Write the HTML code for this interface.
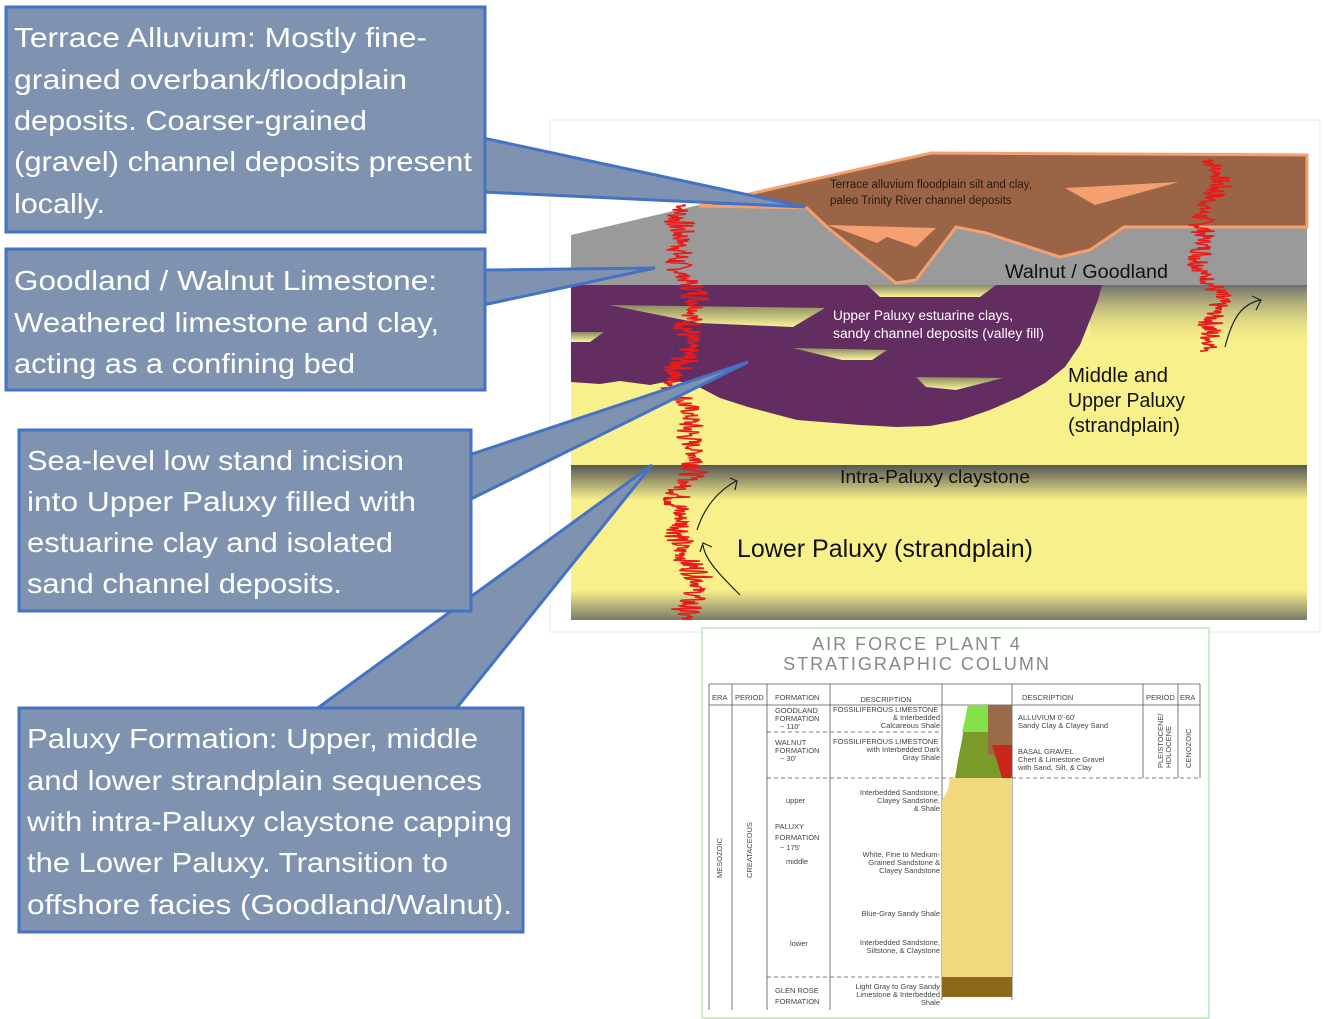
<!DOCTYPE html>
<html><head><meta charset="utf-8"><style>
html,body{margin:0;padding:0;background:#fff;}
svg{display:block;font-family:"Liberation Sans",sans-serif;}
</style></head><body>
<svg id="s" width="1323" height="1019" viewBox="0 0 1323 1019" xmlns="http://www.w3.org/2000/svg">
<defs>
<linearGradient id="gTop" x1="0" y1="0" x2="0" y2="1"><stop offset="0" stop-color="#6e6e6e"/><stop offset="0.35" stop-color="#f8f08a" stop-opacity="0"/></linearGradient>
<linearGradient id="gClay" x1="0" y1="0" x2="0" y2="1"><stop offset="0" stop-color="#555"/><stop offset="1" stop-color="#f8f08a"/></linearGradient>
<linearGradient id="gBot" x1="0" y1="0" x2="0" y2="1"><stop offset="0" stop-color="#f8f08a"/><stop offset="1" stop-color="#7a7a6a"/></linearGradient>
<linearGradient id="gLens" x1="0" y1="0" x2="0" y2="1"><stop offset="0" stop-color="#8a8a60"/><stop offset="1" stop-color="#fbf59a"/></linearGradient>
</defs>

<g>
<rect x="550" y="120" width="770" height="512" fill="#fff" stroke="#e4ece4" stroke-width="1"/>
<rect x="571" y="285" width="736" height="180" fill="#f8f08a"/>
<rect x="1090" y="285" width="217" height="180" fill="url(#gTop)"/>
<rect x="571" y="465" width="736" height="35" fill="url(#gClay)"/>
<rect x="571" y="500" width="736" height="90" fill="#f8f08a"/>
<rect x="571" y="590" width="736" height="30" fill="url(#gBot)"/>
<polygon points="571,235 699,205 1307,155 1307,285 571,285" fill="#9a9a9a"/>
<polygon points="699,206 758,192 931,153 1307,155 1307,227 1124,227 1090,250 1060,257 986,233 956,227 916,280 896,283 827,227 807,208" fill="#9a6446" stroke="#f4a070" stroke-width="3"/>
<polygon points="1065,188 1179,182 1095,205" fill="#f4a070"/>
<polygon points="827,225 936,228 916,247 887,237 877,243 842,230" fill="#f4a070"/>
<polygon points="571,285 1102,285 1098,300 1090,320 1080,345 1065,367 1045,383 1020,397 990,410 961,420 930,426 897,427 860,425 797,420 748,407 720,398 699,387 674,380 650,385 620,381 600,384 571,382" fill="#632d62"/>
<polygon points="867,285 996,285 980,297 880,297" fill="url(#gLens)"/>
<polygon points="609,305 825,308 793,327 699,323" fill="url(#gLens)"/>
<polygon points="571,332 604,332 590,342 571,342" fill="url(#gLens)"/>
<polygon points="793,348 887,350 872,360 842,360" fill="url(#gLens)"/>
<polygon points="916,377 1003,378 956,390 926,387" fill="url(#gLens)"/>
<path id="logL" fill="none" stroke="#e81b1b" stroke-width="1.6"/>
<path id="logR" fill="none" stroke="#e81b1b" stroke-width="1.6"/>
<path d="M1225,347 C1232,320 1240,305 1260,300 M1252,296 L1261,300 L1256,310" fill="none" stroke="#222" stroke-width="1.2"/>
<path d="M697,530 C705,505 720,490 736,481 M730,478 L737,481 L735,490" fill="none" stroke="#222" stroke-width="1.2"/>
<path d="M740,595 C720,575 705,560 703,545 M700,552 L703,543 L712,547" fill="none" stroke="#222" stroke-width="1.2"/>
<text x="830" y="188" font-size="11.5" fill="#2a1a10">Terrace alluvium floodplain silt and clay,</text>
<text x="830" y="204" font-size="11.5" fill="#2a1a10">paleo Trinity River channel deposits</text>
<text x="1005" y="278" font-size="19" fill="#111" textLength="163" lengthAdjust="spacingAndGlyphs">Walnut / Goodland</text>
<text x="833" y="320" font-size="13.5" fill="#fff" textLength="180" lengthAdjust="spacingAndGlyphs">Upper Paluxy estuarine clays,</text>
<text x="833" y="338" font-size="13.5" fill="#fff" textLength="211" lengthAdjust="spacingAndGlyphs">sandy channel deposits (valley fill)</text>
<text x="1068" y="382" font-size="20" fill="#111" textLength="100" lengthAdjust="spacingAndGlyphs">Middle and</text>
<text x="1068" y="407" font-size="20" fill="#111" textLength="117" lengthAdjust="spacingAndGlyphs">Upper Paluxy</text>
<text x="1068" y="432" font-size="20" fill="#111" textLength="112" lengthAdjust="spacingAndGlyphs">(strandplain)</text>
<text x="840" y="483" font-size="18" fill="#111" textLength="190" lengthAdjust="spacingAndGlyphs">Intra-Paluxy claystone</text>
<text x="737" y="557" font-size="25" fill="#111" textLength="296" lengthAdjust="spacingAndGlyphs">Lower Paluxy (strandplain)</text>
</g>

<g font-size="7.5" fill="#444">
<rect x="702" y="628" width="507" height="390" fill="#fff" stroke="#cfeccf" stroke-width="2"/>
<text x="917" y="650" font-size="18" fill="#888" text-anchor="middle" letter-spacing="2">AIR FORCE PLANT 4</text>
<text x="917" y="670" font-size="18" fill="#888" text-anchor="middle" letter-spacing="2">STRATIGRAPHIC COLUMN</text>
<g stroke="#555" stroke-width="0.8" fill="none">
<line x1="709" y1="684" x2="1200" y2="684"/>
<line x1="709" y1="705" x2="1200" y2="705"/>
<line x1="709" y1="684" x2="709" y2="1010"/>
<line x1="732" y1="684" x2="732" y2="1010"/>
<line x1="767" y1="684" x2="767" y2="1010"/>
<line x1="830" y1="684" x2="830" y2="1010"/>
<line x1="942" y1="684" x2="942" y2="1000"/>
<line x1="1012" y1="684" x2="1012" y2="1000"/>
<line x1="1143" y1="684" x2="1143" y2="778"/>
<line x1="1178" y1="684" x2="1178" y2="778"/>
<line x1="1200" y1="684" x2="1200" y2="778"/>
<g stroke-dasharray="4,3"><line x1="767" y1="732" x2="942" y2="732"/><line x1="767" y1="778" x2="1200" y2="778"/><line x1="767" y1="977" x2="942" y2="977"/></g>
</g>
<polygon points="968,705 988,705 988,745 1012,745 1012,778 955,778 958,760 962,740 965,720" fill="#7a9a2a"/>
<polygon points="968,705 988,705 988,732 962,732 965,720" fill="#86e04a"/>
<rect x="988" y="705" width="24" height="50" fill="#9a6a4a"/>
<polygon points="992,745 1012,745 1012,778 1002,778" fill="#c8281a"/>
<polygon points="950,778 1012,778 1012,977 942,977 942,800 948,790" fill="#f2d87c"/>
<rect x="942" y="977" width="70" height="20" fill="#8a6a1a"/>
<text x="712" y="700">ERA</text><text x="735" y="700">PERIOD</text><text x="775" y="700">FORMATION</text><text x="886" y="702" text-anchor="middle">DESCRIPTION</text>
<text x="1022" y="700">DESCRIPTION</text><text x="1146" y="700">PERIOD</text><text x="1180" y="700">ERA</text>
<text x="775" y="713">GOODLAND</text><text x="775" y="721">FORMATION</text><text x="780" y="729">~ 110'</text>
<text x="833" y="712">FOSSILIFEROUS LIMESTONE</text><text x="940" y="720" text-anchor="end">&amp; Interbedded</text><text x="940" y="728" text-anchor="end">Calcareous Shale</text>
<text x="775" y="745">WALNUT</text><text x="775" y="753">FORMATION</text><text x="780" y="761">~ 30'</text>
<text x="833" y="744">FOSSILIFEROUS LIMESTONE</text><text x="940" y="752" text-anchor="end">with Interbedded Dark</text><text x="940" y="760" text-anchor="end">Gray Shale</text>
<text x="1018" y="720">ALLUVIUM  0'-60'</text><text x="1018" y="728">Sandy Clay &amp; Clayey Sand</text>
<text x="1018" y="754">BASAL GRAVEL</text><text x="1018" y="762">Chert &amp; Limestone Gravel</text><text x="1018" y="770">with Sand, Silt, &amp; Clay</text>
<text x="0" y="0" transform="translate(1163,768) rotate(-90)">PLEISTOCENE/</text><text x="0" y="0" transform="translate(1171,768) rotate(-90)">HOLOCENE</text>
<text x="0" y="0" transform="translate(1191,768) rotate(-90)">CENOZOIC</text>
<text x="0" y="0" transform="translate(722,878) rotate(-90)">MESOZOIC</text>
<text x="0" y="0" transform="translate(752,878) rotate(-90)">CREATACEOUS</text>
<text x="786" y="803">upper</text><text x="775" y="829">PALUXY</text><text x="775" y="840">FORMATION</text><text x="780" y="850">~ 175'</text><text x="786" y="864">middle</text><text x="790" y="946">lower</text>
<text x="940" y="795" text-anchor="end">Interbedded Sandstone,</text><text x="940" y="803" text-anchor="end">Clayey Sandstone,</text><text x="940" y="811" text-anchor="end">&amp; Shale</text>
<text x="940" y="857" text-anchor="end">White, Fine to Medium-</text><text x="940" y="865" text-anchor="end">Grained Sandstone &amp;</text><text x="940" y="873" text-anchor="end">Clayey Sandstone</text>
<text x="940" y="916" text-anchor="end">Blue-Gray Sandy Shale</text>
<text x="940" y="945" text-anchor="end">Interbedded Sandstone,</text><text x="940" y="953" text-anchor="end">Siltstone, &amp; Claystone</text>
<text x="775" y="993">GLEN ROSE</text><text x="775" y="1004">FORMATION</text>
<text x="940" y="989" text-anchor="end">Light Gray to Gray Sandy</text><text x="940" y="997" text-anchor="end">Limestone &amp; Interbedded</text><text x="940" y="1005" text-anchor="end">Shale</text>
</g>

<g fill="#7f93b1" stroke="#4472c4" stroke-width="3">
<polygon points="483,138 805,207 483,192"/>
<polygon points="483,270 655,268 483,305"/>
<polygon points="469,455 748,362 469,500"/>
<polygon points="315,710 652,465 455,710"/>
<rect x="6" y="7" width="479" height="225"/>
<rect x="6" y="249" width="479" height="141"/>
<rect x="19" y="430" width="452" height="181"/>
<rect x="19" y="708" width="504" height="224"/>
</g>
<g fill="#fff" font-size="28" stroke="none">
<text x="14" y="47" textLength="413" lengthAdjust="spacingAndGlyphs">Terrace Alluvium: Mostly fine-</text>
<text x="14" y="89" textLength="393" lengthAdjust="spacingAndGlyphs">grained overbank/floodplain</text>
<text x="14" y="130" textLength="353" lengthAdjust="spacingAndGlyphs">deposits. Coarser-grained</text>
<text x="14" y="171" textLength="458" lengthAdjust="spacingAndGlyphs">(gravel) channel deposits present</text>
<text x="14" y="213" textLength="91" lengthAdjust="spacingAndGlyphs">locally.</text>
<text x="14" y="290" textLength="423" lengthAdjust="spacingAndGlyphs">Goodland / Walnut Limestone:</text>
<text x="14" y="332" textLength="425" lengthAdjust="spacingAndGlyphs">Weathered limestone and clay,</text>
<text x="14" y="373" textLength="341" lengthAdjust="spacingAndGlyphs">acting as a confining bed</text>
<text x="27" y="470" textLength="377" lengthAdjust="spacingAndGlyphs">Sea-level low stand incision</text>
<text x="27" y="511" textLength="389" lengthAdjust="spacingAndGlyphs">into Upper Paluxy filled with</text>
<text x="27" y="552" textLength="366" lengthAdjust="spacingAndGlyphs">estuarine clay and isolated</text>
<text x="27" y="593" textLength="315" lengthAdjust="spacingAndGlyphs">sand channel deposits.</text>
<text x="27" y="748" textLength="451" lengthAdjust="spacingAndGlyphs">Paluxy Formation: Upper, middle</text>
<text x="27" y="790" textLength="455" lengthAdjust="spacingAndGlyphs">and lower strandplain sequences</text>
<text x="27" y="831" textLength="485" lengthAdjust="spacingAndGlyphs">with intra-Paluxy claystone capping</text>
<text x="27" y="872" textLength="421" lengthAdjust="spacingAndGlyphs">the Lower Paluxy. Transition to</text>
<text x="27" y="914" textLength="485" lengthAdjust="spacingAndGlyphs">offshore facies (Goodland/Walnut).</text>
</g>
</svg>
<script>
function wig(cx,y0,y1,amp,swing){
  var d='M'+cx+','+y0, s=7;
  for(var y=y0;y<=y1;y+=0.8){
    s=(s*9301+49297)%233280;
    var r=s/233280-0.5;
    var n=r*amp*(1+Math.abs(Math.sin(y/11)));
    var x=cx+Math.sin(y/22)*swing+Math.sin(y/9)*swing*0.5+n;
    d+=' L'+x.toFixed(1)+','+y.toFixed(1);
  }
  return d;
}
document.getElementById('logL').setAttribute('d',wig(686,205,620,16,9));
document.getElementById('logR').setAttribute('d',wig(1208,160,352,14,8));
</script>
</body></html>
